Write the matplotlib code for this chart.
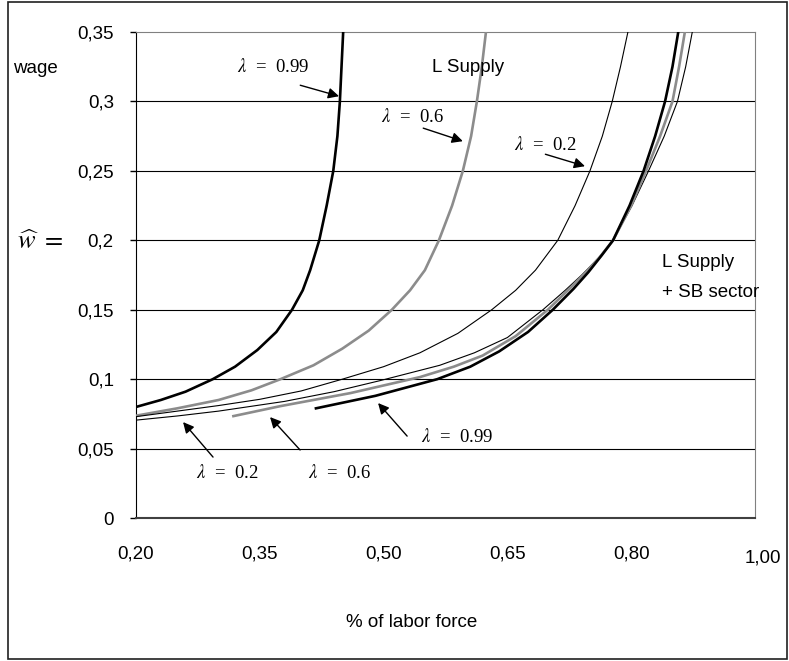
import matplotlib
matplotlib.use("Agg")
import matplotlib.pyplot as plt
import matplotlib.patches as patches

plt.rcParams['font.family'] = ['Liberation Sans', 'DejaVu Sans']
plt.rcParams['mathtext.fontset'] = 'stix'

# Labor supply curves (share of labor force vs wage)
x_ls_99 = [0.200, 0.230, 0.260, 0.293, 0.320, 0.347, 0.370, 0.389, 0.402, 0.411,
           0.422, 0.431, 0.439, 0.444, 0.447, 0.449, 0.451]
w_ls_99 = [0.080, 0.085, 0.091, 0.100, 0.109, 0.121, 0.134, 0.150, 0.164, 0.1785,
           0.200, 0.225, 0.250, 0.275, 0.300, 0.325, 0.350]

x_ls_06 = [0.200, 0.250, 0.300, 0.340, 0.375, 0.415, 0.450, 0.482, 0.510, 0.532,
           0.550, 0.567, 0.583, 0.596, 0.606, 0.613, 0.619, 0.624]
w_ls_06 = [0.0737, 0.079, 0.085, 0.092, 0.100, 0.110, 0.122, 0.135, 0.150, 0.164,
           0.1785, 0.200, 0.225, 0.250, 0.275, 0.300, 0.325, 0.350]

x_ls_02 = [0.200, 0.250, 0.300, 0.350, 0.400, 0.450, 0.500, 0.544, 0.590, 0.631,
           0.660, 0.684, 0.711, 0.732, 0.750, 0.765, 0.777, 0.787, 0.796]
w_ls_02 = [0.073, 0.077, 0.081, 0.0855, 0.0915, 0.100, 0.109, 0.119, 0.133, 0.150,
           0.164, 0.1785, 0.200, 0.225, 0.250, 0.275, 0.300, 0.325, 0.350]

# Labor supply + SB sector
x_sb_02 = [0.200, 0.250, 0.300, 0.380, 0.440, 0.496, 0.568, 0.610, 0.650, 0.693,
           0.720, 0.740, 0.760, 0.778, 0.801, 0.821, 0.840, 0.856, 0.866, 0.874]
w_sb_02 = [0.0705, 0.0735, 0.077, 0.084, 0.091, 0.099, 0.110, 0.119, 0.130, 0.150,
           0.164, 0.175, 0.187, 0.200, 0.225, 0.250, 0.275, 0.300, 0.325, 0.350]

x_sb_06 = [0.318, 0.375, 0.460, 0.544, 0.585, 0.620, 0.660, 0.699, 0.725, 0.745,
           0.762, 0.778, 0.800, 0.818, 0.835, 0.850, 0.858, 0.865]
w_sb_06 = [0.0734, 0.0806, 0.090, 0.1015, 0.109, 0.117, 0.131, 0.150, 0.165, 0.177,
           0.188, 0.200, 0.225, 0.250, 0.275, 0.300, 0.325, 0.350]

x_sb_99 = [0.418, 0.490, 0.565, 0.605, 0.640, 0.675, 0.705, 0.730, 0.748, 0.764,
           0.778, 0.798, 0.815, 0.829, 0.841, 0.850, 0.857]
w_sb_99 = [0.079, 0.088, 0.100, 0.109, 0.120, 0.134, 0.150, 0.165, 0.177, 0.189,
           0.200, 0.225, 0.250, 0.275, 0.300, 0.325, 0.350]

x_ticks = [0.20, 0.35, 0.50, 0.65, 0.80]
x_tick_labels = ['0,20', '0,35', '0,50', '0,65', '0,80']
y_ticks = [0, 0.05, 0.1, 0.15, 0.2, 0.25, 0.3, 0.35]
y_tick_labels = ['0', '0,05', '0,1', '0,15', '0,2', '0,25', '0,3', '0,35']

GRAY = '#8c8c8c'

fig = plt.figure(figsize=(7.89, 6.61), dpi=100)
ax = fig.add_axes([0.1724, 0.2163, 0.7845, 0.7352])

# chart border
fig.patches.append(patches.Rectangle((0.010, 0.003), 0.987, 0.994, transform=fig.transFigure,
                                     fill=False, edgecolor='#202020', linewidth=1.2))

for yv in y_ticks[1:-1]:
    ax.axhline(yv, color='black', linewidth=0.8, zorder=1)

ax.plot(x_ls_99, w_ls_99, color='black', linewidth=1.9, zorder=3)
ax.plot(x_ls_06, w_ls_06, color=GRAY, linewidth=1.9, zorder=3)
ax.plot(x_ls_02, w_ls_02, color='black', linewidth=0.8, zorder=3)
ax.plot(x_sb_02, w_sb_02, color='black', linewidth=0.8, zorder=3)
ax.plot(x_sb_06, w_sb_06, color=GRAY, linewidth=1.9, zorder=3)
ax.plot(x_sb_99, w_sb_99, color='black', linewidth=1.9, zorder=3)

ax.set_xlim(0.2, 0.95)
ax.set_ylim(0, 0.35)
ax.set_xticks(x_ticks)
ax.set_xticklabels(x_tick_labels)
ax.set_yticks(y_ticks)
ax.set_yticklabels(y_tick_labels)
ax.tick_params(axis='x', length=0, pad=20, labelsize=13.5)
ax.tick_params(axis='y', length=4, width=1, pad=12, labelsize=13.5)

ax.spines['left'].set_color('black')
ax.spines['bottom'].set_color('#404040')
ax.spines['bottom'].set_linewidth(1.5)
ax.spines['right'].set_color('#808080')
ax.spines['top'].set_color('#808080')

ax.text(0.96, -0.029, '1,00', fontsize=13.5, ha='center', va='center', clip_on=False)
ax.text(0.446, -0.214, '% of labor force', fontsize=13.5, ha='center', va='center',
        transform=ax.transAxes)

fig.text(0.0165, 0.897, 'wage', fontsize=13.5, ha='left', va='center')
fig.text(0.021, 0.634, r'$\widehat{w}\ =$', fontsize=19, ha='left', va='center')

lam_font = dict(family=['Liberation Serif', 'DejaVu Serif'], fontsize=13.5)
arrow = dict(arrowstyle='-|>', color='black', lw=1.0, mutation_scale=16, shrinkA=0, shrinkB=0)

ax.text(0.366, 0.3247, r'$\lambda$  =  0.99', ha='center', va='center', **lam_font)
ax.annotate('', xy=(0.446, 0.3038), xytext=(0.399, 0.3117), arrowprops=arrow)
ax.text(0.5345, 0.2887, r'$\lambda$  =  0.6', ha='center', va='center', **lam_font)
ax.annotate('', xy=(0.596, 0.2714), xytext=(0.548, 0.2808), arrowprops=arrow)
ax.text(0.696, 0.2685, r'$\lambda$  =  0.2', ha='center', va='center', **lam_font)
ax.annotate('', xy=(0.744, 0.2534), xytext=(0.696, 0.262), arrowprops=arrow)

ax.text(0.602, 0.3247, 'L Supply', fontsize=13.5, ha='center', va='center')
ax.text(0.8376, 0.1843, 'L Supply', fontsize=13.5, ha='left', va='center')
ax.text(0.8376, 0.1627, '+ SB sector', fontsize=13.5, ha='left', va='center', clip_on=False)

ax.text(0.589, 0.0583, r'$\lambda$  =  0.99', ha='center', va='center', **lam_font)
ax.annotate('', xy=(0.4933, 0.0828), xytext=(0.5285, 0.059), arrowprops=arrow)
ax.text(0.310, 0.0324, r'$\lambda$  =  0.2', ha='center', va='center', **lam_font)
ax.annotate('', xy=(0.257, 0.0691), xytext=(0.2933, 0.0439), arrowprops=arrow)
ax.text(0.446, 0.0324, r'$\lambda$  =  0.6', ha='center', va='center', **lam_font)
ax.annotate('', xy=(0.3624, 0.0727), xytext=(0.3988, 0.049), arrowprops=arrow)

plt.savefig('out.png', dpi=100)
plt.close()
